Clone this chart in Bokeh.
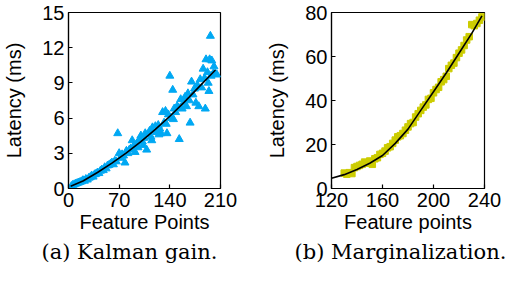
from bokeh.plotting import figure
from bokeh.layouts import row, column
from bokeh.models import FixedTicker, Range1d
from bokeh.core.properties import value
from bokeh.embed import file_html
from bokeh.resources import INLINE

# ---- Data: (a) Kalman gain ----
kal_x = [4, 6, 8, 10, 12, 14, 16, 18, 20, 22, 24, 26, 28, 30, 32, 34, 36, 38, 40, 42,
         44, 46, 48, 50, 52, 54, 56, 58, 60, 62, 64, 66, 68, 70, 72, 74, 76, 78, 80, 82,
         84, 86, 88, 90, 92, 94, 96, 98, 100, 102, 103, 104, 106, 108, 110, 112, 114, 115,
         116, 118, 120, 122, 124, 125, 126, 128, 130, 132, 134, 135, 136, 138, 140, 142,
         144, 145, 146, 148, 150, 152, 153, 155, 157, 159, 161, 163, 165, 167, 168, 170,
         172, 174, 176, 178, 180, 182, 184, 186, 188, 189, 190, 192, 193, 194, 195, 196,
         197, 198, 200, 201, 203, 205]
kal_y = [0.2, 0.3, 0.35, 0.4, 0.45, 0.5, 0.55, 0.6, 0.7, 0.65, 0.8, 0.75, 0.9, 0.95, 1.1,
         1.0, 1.2, 1.25, 1.35, 1.3, 1.5, 1.6, 1.55, 1.8, 1.7, 1.95, 2.0, 2.1, 2.2, 2.05,
         2.35, 2.3, 4.7, 3.0, 2.6, 2.9, 2.8, 2.2, 3.2, 3.0, 3.3, 3.4, 4.1, 3.6, 3.1, 3.8,
         3.5, 4.2, 4.5, 4.0, 3.7, 4.3, 4.7, 3.3, 4.6, 4.9, 4.4, 4.1, 5.2, 5.0, 5.3, 4.8,
         5.4, 4.6, 5.1, 4.7, 6.5, 5.6, 6.6, 5.5, 4.7, 6.3, 9.6, 6.0, 8.4, 5.9, 6.8, 6.5,
         7.0, 6.9, 4.2, 7.6, 6.8, 7.3, 7.8, 7.0, 8.1, 7.5, 5.6, 9.1, 8.0, 8.5, 7.3, 8.8,
         7.0, 9.3, 8.6, 10.2, 9.4, 6.8, 11.0, 9.9, 9.0, 8.3, 11.0, 13.0, 9.6, 10.9, 9.8,
         10.4, 9.8, 9.7]
kal_fit_x = [3, 20, 40, 60, 80, 100, 120, 140, 160, 180, 203]
kal_fit_y = [0.2, 0.64, 1.36, 2.16, 3.04, 4.0, 5.04, 6.16, 7.36, 8.64, 10.1]

# ---- Data: (b) Marginalization ----
mar_x = [130, 132, 134, 136, 138, 140, 142, 144, 146, 148, 150, 152, 154, 156, 158, 160,
         162, 164, 166, 168, 170, 172, 174, 176, 178, 180, 182, 184, 186, 188, 190, 192,
         194, 196, 198, 200, 202, 204, 206, 208, 210, 212, 214, 216, 218, 220, 222, 224,
         226, 228, 230, 232, 234, 236, 238]
mar_y = [7.0, 6.5, 7.2, 6.8, 9.5, 10.0, 10.5, 11.0, 12.0, 11.5, 12.5, 11.0, 13.5, 14.0,
         15.5, 16.0, 17.0, 18.5, 19.0, 20.5, 22.0, 23.5, 24.0, 25.0, 26.5, 28.0, 29.5,
         30.0, 32.5, 34.0, 35.5, 37.0, 38.0, 40.5, 41.0, 43.5, 45.0, 46.0, 48.5, 49.5,
         51.0, 54.5, 56.0, 57.0, 59.5, 61.5, 63.0, 65.0, 67.5, 69.0, 74.5, 74.0, 75.0,
         76.5, 78.0]
mar_fit_x = [120, 130, 140, 150, 160, 170, 180, 190, 200, 210, 220, 230, 238]
mar_fit_y = [4.7, 6.3, 8.6, 11.5, 15.0, 20.5, 27.0, 35.5, 44.0, 52.5, 61.5, 70.5, 78.5]

kal_xticks = [0, 70, 140, 210]
kal_yticks = [0, 3, 6, 9, 12, 15]
mar_xticks = [120, 160, 200, 240]
mar_yticks = [0, 20, 40, 60, 80]

captions = ["(a) Kalman gain.", "(b) Marginalization."]
caption_x = [129, 400]
caption_y = [31, 31]

FONT = "Liberation Sans"
FS = "20px"


def style(p, xticks, yticks, xlabel, ylabel, ystand):
    p.xgrid.visible = False
    p.ygrid.visible = False
    p.outline_line_color = "black"
    p.outline_line_alpha = 1.0
    p.outline_line_width = 1.2
    p.xaxis.ticker = FixedTicker(ticks=xticks)
    p.yaxis.ticker = FixedTicker(ticks=yticks)
    p.xaxis.axis_label = xlabel
    p.yaxis.axis_label = ylabel
    for ax in (p.xaxis[0], p.yaxis[0]):
        ax.major_tick_in = 4
        ax.major_tick_out = 0
        ax.minor_tick_line_color = None
        ax.axis_line_color = "black"
        ax.axis_line_width = 1.2
        ax.major_tick_line_color = "black"
        ax.major_tick_line_width = 1.2
        ax.major_label_text_font = FONT
        ax.major_label_text_font_size = FS
        ax.major_label_text_color = "black"
        ax.axis_label_text_font = FONT
        ax.axis_label_text_font_size = FS
        ax.axis_label_text_font_style = "normal"
        ax.axis_label_text_color = "black"
        ax.major_label_standoff = 4
    p.xaxis.axis_label_standoff = 1
    p.yaxis.axis_label_standoff = ystand


p1 = figure(width=250, height=240, x_range=Range1d(0, 210), y_range=Range1d(0, 15),
            output_backend="svg", toolbar_location=None,
            min_border_left=67, min_border_right=30, min_border_top=12, min_border_bottom=52)
p1.scatter(kal_x, kal_y, marker="triangle", size=8, fill_color="#00A8F3",
           line_color="#00A8F3")
p1.line(kal_fit_x, kal_fit_y, line_color="black", line_width=1.6)
style(p1, kal_xticks, kal_yticks, "Feature Points", "Latency (ms)", 14)

p2 = figure(width=257, height=240, x_range=Range1d(120, 240), y_range=Range1d(0, 80),
            output_backend="svg", toolbar_location=None,
            min_border_left=81, min_border_right=23, min_border_top=12, min_border_bottom=52)
p2.scatter(mar_x, mar_y, marker="square", size=6.5, fill_color="#CCCC00",
           line_color="#CCCC00")
p2.line(mar_fit_x, mar_fit_y, line_color="black", line_width=1.6)
style(p2, mar_xticks, mar_yticks, "Feature points", "Latency (ms)", 14)

cap = figure(width=507, height=42, x_range=Range1d(0, 507), y_range=Range1d(0, 42),
             output_backend="svg", toolbar_location=None,
             x_axis_location=None, y_axis_location=None,
             min_border_left=0, min_border_right=0, min_border_top=0, min_border_bottom=0)
cap.grid.visible = False
cap.outline_line_color = None
cap.text(x=caption_x, y=caption_y, text=captions, text_align="center",
         text_baseline="alphabetic", text_font=value("DejaVu Serif"),
         text_font_size="21px", text_color="black")

layout = column(row(p1, p2), cap)
open("out.html", "w").write(file_html(layout, INLINE))
